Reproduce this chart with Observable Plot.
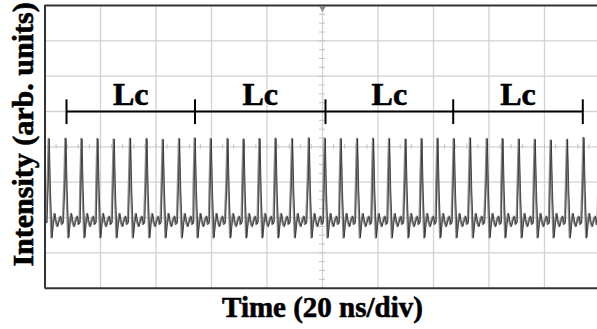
<!DOCTYPE html>
<html><head><meta charset="utf-8">
<script src="https://cdn.jsdelivr.net/npm/d3@7"></script>
<script src="https://cdn.jsdelivr.net/npm/@observablehq/plot@0.6"></script>
<style>body{margin:0;background:#fff} svg{display:block}</style>
</head><body><div id="chart"></div>
<script>
// Pulse peak times (ns)
const peakTimes = [1.26, 7.28, 13.05, 18.81, 24.68, 30.56, 36.47, 42.34, 48.22, 53.87,
  59.64, 65.66, 71.42, 77.19, 82.95, 88.94, 94.95, 100.72, 106.49, 112.36,
  118.13, 123.89, 129.80, 135.57, 141.33, 147.21, 153.08, 159.10, 164.76, 170.63,
  176.40, 182.16, 188.04, 193.95, 199.71];
// Peak intensities (divisions)
const peakValues = [4.23, 4.24, 4.23, 4.23, 4.22, 4.24, 4.23, 4.21, 4.23, 4.25,
  4.23, 4.23, 4.22, 4.23, 4.24, 4.23, 4.25, 4.24, 4.23, 4.23,
  4.24, 4.23, 4.22, 4.23, 4.24, 4.23, 4.25, 4.23, 4.23, 4.22,
  4.21, 4.19, 4.21, 4.26, 4.22];
// One period of the pulse shape: time offset from peak (ns) and intensity
const shapeOffsets = [-0.36, 0, 0.43, 1.01, 1.55, 2.05, 2.59, 3.10, 3.68, 4.18, 4.68, 5.12];
const shapeValues  = [3.05, null, 2.76, 1.43, 1.86, 2.11, 1.86, 1.75, 1.94, 2.03, 1.81, 1.86];
// Trace at the left edge, before the first full pulse
const leadTimes = [0, 0.45];
const leadValues = [1.9, 1.86];

const xGrid = [20, 40, 60, 80, 100, 120, 140, 160, 180];
const yGrid = [1, 2, 3, 4, 5, 6, 7];
const lcBounds = [7.75, 54.05, 101.08, 147.1, 193.8];
const lcText = "Lc";
const xLabel = "Time (20 ns/div)";
const yLabel = "Intensity (arb. units)";

const trace = leadTimes.map((t, i) => ({t, v: leadValues[i]}));
peakTimes.forEach((p, i) => shapeOffsets.forEach((o, j) =>
  trace.push({t: p + o, v: shapeValues[j] === null ? peakValues[i] : shapeValues[j]})));
const lcMids = lcBounds.slice(1).map((b, i) => ({x: (b + lcBounds[i]) / 2, label: lcText}));
const minorY = d3.range(0, 8.001, 0.25);
const minorX = d3.range(0, 199, 4);
const font = "'Liberation Serif', 'Times New Roman', serif";
const textStyle = {fontWeight: "bold", fill: "#000", stroke: "#000", strokeWidth: 0.6, fontFamily: font};

const chart = Plot.plot({
  width: 597, height: 329,
  marginLeft: 44.5, marginRight: 0, marginTop: 5, marginBottom: 41.3,
  x: {domain: [0, 199.1], axis: null},
  y: {domain: [0, 8], axis: null},
  style: {background: "white", fontFamily: font},
  marks: [
    Plot.ruleX(xGrid, {stroke: "#d2d2d2", strokeWidth: 1.3}),
    Plot.ruleY(yGrid, {stroke: "#d2d2d2", strokeWidth: 1.3}),
    Plot.ruleY(minorY, {x1: 98.9, x2: 101.1, stroke: "#c4c4c4", strokeWidth: 1}),
    Plot.ruleX(minorX, {y1: 3.93, y2: 4.07, stroke: "#c4c4c4", strokeWidth: 1}),
    Plot.line(trace, {x: "t", y: "v", stroke: "#8c8c8c", strokeWidth: 1.9, clip: true}),
    Plot.line(trace, {x: "t", y: "v", stroke: "#2a2a2a", strokeWidth: 0.8, dx: 0.8, clip: true}),
    Plot.ruleY([0, 8], {stroke: "#333", strokeWidth: 2}),
    Plot.ruleX([0], {stroke: "#333", strokeWidth: 2}),
    Plot.dot([100], {x: d => d, y: 8, symbol: "triangle", rotate: 180, r: 2.6, fill: "#888", stroke: "none", dy: 2.5}),
    Plot.ruleY([5], {x1: lcBounds[0], x2: lcBounds[lcBounds.length - 1], stroke: "#000", strokeWidth: 2}),
    Plot.ruleX(lcBounds, {y1: 4.63, y2: 5.33, stroke: "#000", strokeWidth: 2}),
    Plot.text(lcMids, {x: "x", y: 5.19, text: "label", fontSize: 32, lineAnchor: "bottom", ...textStyle}),
    Plot.text([xLabel], {x: 100, y: 0, text: d => d, dy: 29, lineAnchor: "bottom", fontSize: 29, ...textStyle}),
    Plot.text([yLabel], {x: -4.5, y: 4.35, text: d => d, rotate: -90, lineAnchor: "bottom", fontSize: 30, ...textStyle})
  ]
});
document.getElementById("chart").appendChild(chart);
</script>
</body></html>
